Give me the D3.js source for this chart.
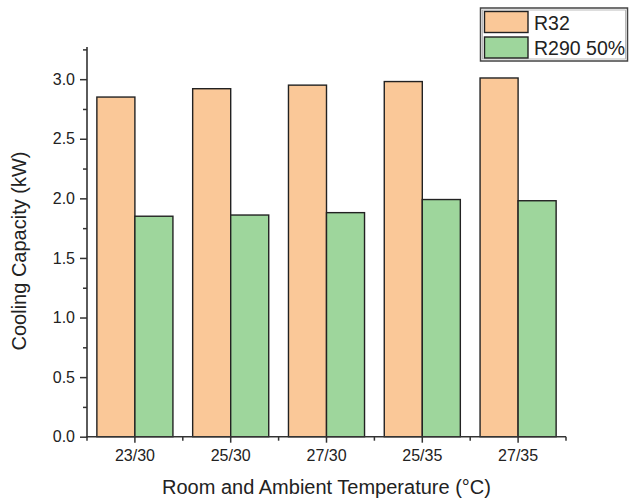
<!DOCTYPE html>
<html>
<head>
<meta charset="utf-8">
<script src="https://cdn.jsdelivr.net/npm/d3@7"></script>
<style>
  html, body { margin: 0; padding: 0; background: #fff; }
  svg { display: block; font-family: "Liberation Sans", Arial, sans-serif; }
</style>
</head>
<body>
<svg id="chart" width="629" height="499"></svg>
<script>
const categories = ["23/30", "25/30", "27/30", "25/35", "27/35"];
const seriesNames = ["R32", "R290 50%"];
const r32Values = [2.85, 2.92, 2.95, 2.98, 3.01];
const r290Values = [1.85, 1.86, 1.88, 1.99, 1.98];
const yTickValues = [0.0, 0.5, 1.0, 1.5, 2.0, 2.5, 3.0];
const yMinorValues = [0.25, 0.75, 1.25, 1.75, 2.25, 2.75, 3.25];
const colors = ["#FAC898", "#9ED69C"];

const svg = d3.select("#chart");
const margin = {left: 87, right: 63, top: 47, bottom: 62};
const W = 629, H = 499;
const x0 = margin.left, x1 = W - margin.right;
const yBottom = 436.7;

const x = d3.scaleBand().domain(categories).range([x0, x1]).padding(0);
const y = d3.scaleLinear().domain([0, 3.27]).range([yBottom, margin.top]);
const barW = x.bandwidth() * 0.397;

const data = categories.map((c, i) => ({cat: c, vals: [r32Values[i], r290Values[i]]}));

// bars
const g = svg.append("g");
data.forEach(d => {
  const cx = x(d.cat) + x.bandwidth() / 2;
  d.vals.forEach((v, j) => {
    g.append("rect")
      .attr("x", j === 0 ? cx - barW : cx)
      .attr("y", y(v))
      .attr("width", barW)
      .attr("height", y(0) - y(v))
      .attr("fill", colors[j])
      .attr("stroke", "#222")
      .attr("stroke-width", 1.4);
  });
});

const axisColor = "#333";
// y axis
const yAxis = svg.append("g").attr("transform", `translate(${x0},0)`)
  .call(d3.axisLeft(y).tickValues(yTickValues).tickFormat(d3.format(".1f")).tickSize(7).tickSizeOuter(0));
yAxis.select(".domain").remove();
yAxis.selectAll(".tick line").attr("stroke", axisColor).attr("stroke-width", 1.5);
yAxis.selectAll(".tick text").attr("font-size", 16).attr("fill", "#222").attr("x", -12).attr("font-family", "Liberation Sans, Arial, sans-serif");
svg.append("g").attr("transform", `translate(${x0},0)`)
  .call(d3.axisLeft(y).tickValues(yMinorValues).tickFormat("").tickSize(4).tickSizeOuter(0))
  .call(s => s.select(".domain").remove())
  .selectAll(".tick line").attr("stroke", axisColor).attr("stroke-width", 1.5);
svg.append("line").attr("x1", x0).attr("x2", x0).attr("y1", margin.top).attr("y2", yBottom + 0.7)
  .attr("stroke", axisColor).attr("stroke-width", 1.6);

// x axis
const xAxis = svg.append("g").attr("transform", `translate(0,${yBottom})`)
  .call(d3.axisBottom(x).tickSize(6).tickSizeOuter(0));
xAxis.select(".domain").remove();
xAxis.selectAll(".tick line").attr("stroke", axisColor).attr("stroke-width", 1.5);
xAxis.selectAll(".tick text").attr("font-size", 16).attr("fill", "#222").attr("y", 13).attr("font-family", "Liberation Sans, Arial, sans-serif");
const boundaries = d3.range(categories.length + 1).map(i => x0 + i * x.step());
svg.append("g").selectAll("line").data(boundaries).join("line")
  .attr("x1", d => d).attr("x2", d => d).attr("y1", yBottom).attr("y2", yBottom + 4)
  .attr("stroke", axisColor).attr("stroke-width", 1.5);
svg.append("line").attr("x1", x0 - 1).attr("x2", x1).attr("y1", yBottom).attr("y2", yBottom)
  .attr("stroke", axisColor).attr("stroke-width", 1.6);

// titles
svg.append("text").attr("x", (x0 + x1) / 2).attr("y", 494)
  .attr("text-anchor", "middle").attr("font-size", 20).attr("fill", "#222")
  .text("Room and Ambient Temperature (°C)");
svg.append("text").attr("transform", `translate(26,251) rotate(-90)`)
  .attr("text-anchor", "middle").attr("font-size", 20).attr("fill", "#222")
  .text("Cooling Capacity (kW)");

// legend
const lg = svg.append("g");
lg.append("rect").attr("x", 480.5).attr("y", 8).attr("width", 147).attr("height", 53)
  .attr("fill", "#fff").attr("stroke", "#444").attr("stroke-width", 1.5);
lg.append("rect").attr("x", 482.5).attr("y", 10).attr("width", 143).attr("height", 49)
  .attr("fill", "none").attr("stroke", "#aaa").attr("stroke-width", 0.8);
seriesNames.forEach((name, i) => {
  const yy = 11.5 + i * 25.5;
  lg.append("rect").attr("x", 484.5).attr("y", yy).attr("width", 43.5).attr("height", 21)
    .attr("fill", colors[i]).attr("stroke", "#222").attr("stroke-width", 1.4);
  lg.append("text").attr("x", 534).attr("y", yy + 18).attr("font-size", 19.5).attr("fill", "#222")
    .text(name);
});
</script>
</body>
</html>
